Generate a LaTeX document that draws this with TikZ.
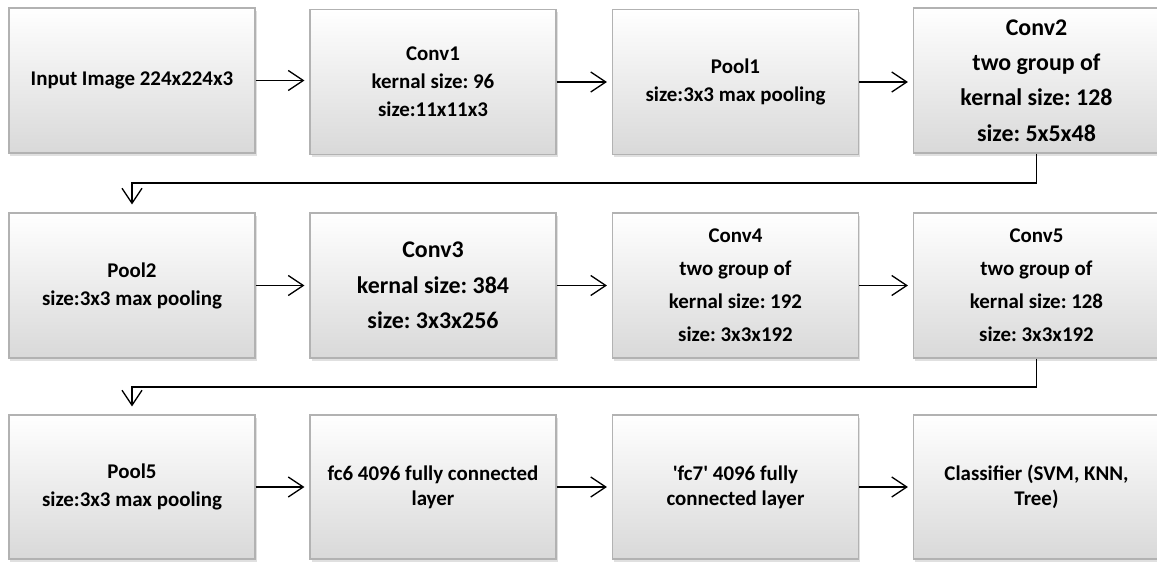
\documentclass[tikz,border=0pt]{standalone}
\usepackage{fontspec}
\setmainfont{Carlito}
\usetikzlibrary{arrows.meta,shadows}
\frenchspacing
\begin{document}
\begin{tikzpicture}[x=1bp,y=-1bp,
  box/.style={rectangle, minimum width=246bp, minimum height=145bp, inner sep=0pt, align=center,
    top color=white, bottom color=gray!30, draw=gray!60, line width=1.2bp,
    drop shadow={shadow xshift=1.5bp, shadow yshift=-3bp, opacity=.3, fill=gray!80},
    font=\bfseries\frenchspacing\fontsize{21}{28}\selectfont, text=black},
  bigtxt/.style={font=\bfseries\frenchspacing\fontsize{24}{35.5}\selectfont},
  widetxt/.style={font=\bfseries\frenchspacing\fontsize{21}{33}\selectfont},
  tighttxt/.style={font=\bfseries\frenchspacing\fontsize{21}{25}\selectfont},
  conn/.style={draw=black, line width=1.3bp, -{Straight Barb[length=15bp,width=20bp,line width=1.3bp]}},
]
\useasboundingbox (0,0) rectangle (1157,565);
% row 1
\node[box] (in) at (132,80.5) {Input Image 224x224x3};
\node[box] (c1) at (433,82) {Conv1\\kernal size: 96\\size:11x11x3};
\node[box] (p1) at (735.5,82) {Pool1\\size:3x3 max pooling};
\node[box,bigtxt] (c2) at (1036.5,80.5) {Conv2\\two group of\\kernal size: 128\\size: 5x5x48};
% row 2
\node[box] (p2) at (132,285.5) {Pool2\\size:3x3 max pooling};
\node[box,bigtxt] (c3) at (433,285.5) {Conv3\\kernal size: 384\\size: 3x3x256};
\node[box,widetxt] (c4) at (735.5,285.5) {Conv4\\two group of\\kernal size: 192\\size: 3x3x192};
\node[box,widetxt] (c5) at (1036.5,285.5) {Conv5\\two group of\\kernal size: 128\\size: 3x3x192};
% row 3
\node[box,minimum height=144bp] (p5) at (132,487) {Pool5\\size:3x3 max pooling};
\node[box,tighttxt,minimum height=144bp] (f6) at (433,487) {fc6 4096 fully connected\\layer};
\node[box,tighttxt,minimum height=144bp] (f7) at (735.5,487) {\textquotesingle fc7\textquotesingle{} 4096 fully\\connected layer};
\node[box,tighttxt,minimum height=144bp] (cl) at (1036.5,487) {Classifier (SVM, KNN,\\Tree)};
% horizontal arrows
\draw[conn, shorten >=5bp] (in.east) -- (in.east -| c1.west);
\draw[conn, shorten >=5bp] (c1.east) -- (c1.east -| p1.west);
\draw[conn, shorten >=5bp] (p1.east) -- (p1.east -| c2.west);
\draw[conn, shorten >=5bp] (p2.east) -- (c3.west);
\draw[conn, shorten >=5bp] (c3.east) -- (c4.west);
\draw[conn, shorten >=5bp] (c4.east) -- (c5.west);
\draw[conn, shorten >=5bp] (p5.east) -- (f6.west);
\draw[conn, shorten >=5bp] (f6.east) -- (f7.west);
\draw[conn, shorten >=5bp] (f7.east) -- (cl.west);
% row connectors
\coordinate (k1) at (132,183);
\coordinate (k2) at (132,387);
\draw[conn, shorten >=8bp] (c2.south) |- (k1) -- (p2.north);
\draw[conn, shorten >=8bp] (c5.south) |- (k2) -- (p5.north);
\end{tikzpicture}
\end{document}
